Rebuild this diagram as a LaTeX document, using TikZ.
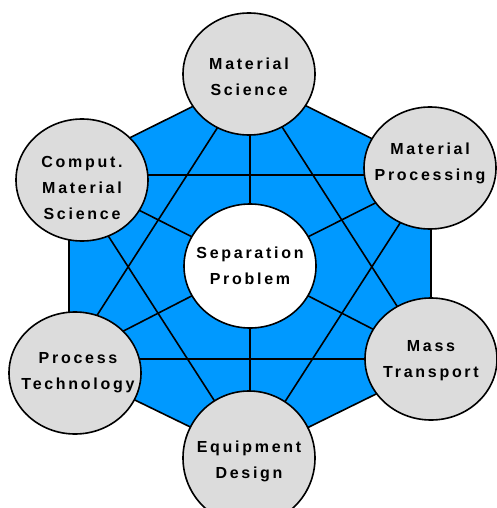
\documentclass[tikz,border=0pt]{standalone}
\usepackage{fontspec}
\setmainfont{Liberation Sans}[LetterSpace=17]
\usepackage{tikz}
\usetikzlibrary{shapes.geometric}
\definecolor{hexblue}{RGB}{0,153,255}
\definecolor{topicgray}{RGB}{220,220,220}

\begin{document}
\begin{tikzpicture}[x=1pt,y=-1pt]

\tikzset{topic/.style={
    ellipse, draw, line width=1.6pt, fill=topicgray,
    minimum width=132pt, minimum height=#1, inner sep=0pt
  }, topic/.default=122pt,
  topictext/.style={align=center, inner sep=0pt,
    font=\bfseries\fontsize{16}{26}\selectfont},
  link/.style={line width=1.6pt}
}
\useasboundingbox (0,0) rectangle (497,508);
% hexagon
\coordinate (hT) at (250,78); \coordinate (hUR) at (431,168);
\coordinate (hLR) at (431,367); \coordinate (hB) at (250,456);
\coordinate (hLL) at (69,368); \coordinate (hUL) at (69,168);
\filldraw[fill=hexblue, line width=1.6pt, line join=miter]
  (hT) -- (hUR) -- (hLR) -- (hB) -- (hLL) -- (hUL) -- cycle;
% star corners
\coordinate (sT) at (250,77); \coordinate (sB) at (250,456);
\coordinate (sUL) at (69,175); \coordinate (sUR) at (431,175);
\coordinate (sLL) at (69,359); \coordinate (sLR) at (431,359);
\coordinate (mid) at (250,266);
\draw[link] (sT) -- (sLL) -- (sLR) -- cycle;
\draw[link] (sB) -- (sUL) -- (sUR) -- cycle;
\foreach \c in {sT,sB,sUL,sUR,sLL,sLR}{\draw[link] (mid) -- (\c);}
% topics
\node[topic=124pt, fill=white,
  label={[topictext]center:Separation\\Problem}] (sep) at (250,266) {};
\node[topic, label={[topictext, yshift=-3pt]center:Material\\Science}]
  (matsci) at (249,74) {};
\node[topic, label={[topictext, yshift=5pt]center:Material\\Processing}]
  (matproc) at (430,168) {};
\node[topic, label={[topictext, yshift=-2pt]center:Mass\\Transport}]
  (mass) at (431,359) {};
\node[topic=134pt, label={[topictext, yshift=-3pt]center:Equipment\\Design}]
  (equip) at (249,458) {};
\node[topic, label={[topictext, xshift=3pt]center:Process\\Technology}]
  (proctech) at (75,373) {};
\node[topic, label={[topictext, yshift=-8pt]center:Comput.\\Material\\Science}]
  (comput) at (82,180) {};
\end{tikzpicture}
\end{document}
